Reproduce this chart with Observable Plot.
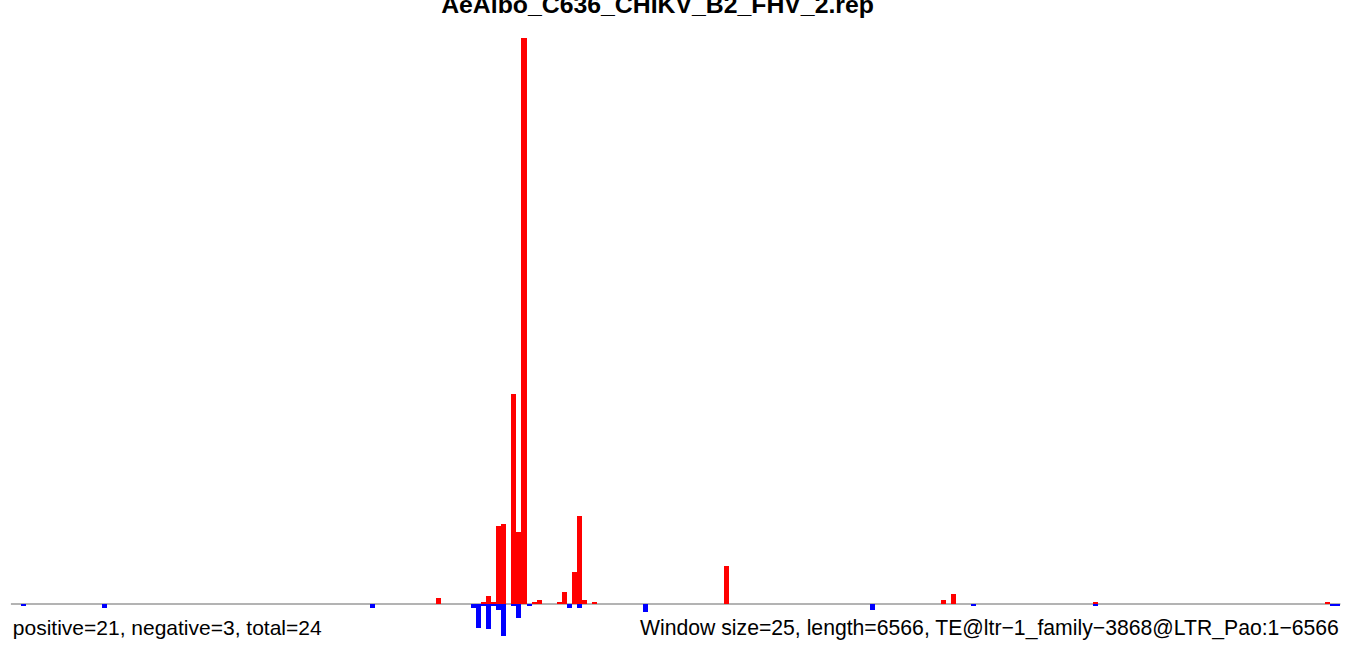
<!DOCTYPE html>
<html>
<head>
<meta charset="utf-8">
<script src="https://cdn.jsdelivr.net/npm/d3@7"></script>
<script src="https://cdn.jsdelivr.net/npm/@observablehq/plot@0.6"></script>
<style>
  html, body { margin: 0; padding: 0; background: #fff; overflow: hidden; }
</style>
</head>
<body>
<div id="chart"></div>
<script>
// Window index (window size 25 bp) and signal values
const titleText = "AeAlbo_C636_CHIKV_B2_FHV_2.rep";
const leftCaption = "positive=21, negative=3, total=24";
const rightCaption = "Window size=25, length=6566, TE@ltr\u22121_family\u22123868@LTR_Pao:1\u22126566";

const windowCount = 263;

const posWindows = [84, 93, 94, 95, 96, 97, 99, 100, 101, 103, 104, 108, 109, 111, 112, 113, 115, 141, 184, 186, 214, 260];
const posValues  = [3, 1, 4, 1, 39, 40, 105, 36, 283, 1, 2, 1, 6, 16, 44, 2, 1, 19, 2, 5, 1, 1];

const negWindows = [2, 18, 71, 91, 92, 93, 94, 95, 96, 97, 99, 100, 102, 110, 112, 125, 170, 190, 214, 261, 262];
const negValues  = [1.25, 2, 2, 2, 12, 1.25, 12.5, 1.25, 3, 16, 1.25, 7, 1.25, 2, 2, 4, 3, 1.25, 1.25, 1.25, 1.25];

const rows = [
  ...posWindows.map((w, i) => ({w, v: posValues[i], strand: "pos"})),
  ...negWindows.map((w, i) => ({w, v: -negValues[i], strand: "neg"}))
];

const W = 1357, H = 646;
const mL = 10.9, mR = 16.6, mT = 23.5, mB = 2.5;

const chart = Plot.plot({
  width: W,
  height: H,
  marginLeft: mL,
  marginRight: mR,
  marginTop: mT,
  marginBottom: mB,
  style: {fontFamily: "'Liberation Sans', Arial, sans-serif", background: "#fff", overflow: "visible"},
  x: {domain: [0, windowCount], axis: null},
  y: {domain: [-20, 290], axis: null},
  marks: [
    Plot.ruleY([0], {stroke: "#9a9a9a", strokeWidth: 1.6}),
    Plot.rectY(rows, {
      x1: "w",
      x2: d => d.w + 1,
      y: "v",
      fill: d => d.strand === "pos" ? "#FF0000" : "#0000FF",
      insetLeft: 0,
      insetRight: 0,
      shapeRendering: "crispEdges"
    }),
    Plot.text([titleText], {
      frameAnchor: "top",
      text: d => d,
      dx: -18.6,
      dy: -11.5,
      lineAnchor: "bottom",
      fontSize: 24.8,
      fontWeight: "bold",
      fill: "#000"
    }),
    Plot.text([leftCaption], {
      frameAnchor: "bottom-left",
      text: d => d,
      textAnchor: "start",
      lineAnchor: "bottom",
      dx: 1.4,
      dy: -9.5,
      fontSize: 21,
      fill: "#000"
    }),
    Plot.text([rightCaption], {
      frameAnchor: "bottom-right",
      text: d => d,
      textAnchor: "end",
      lineAnchor: "bottom",
      dx: -2,
      dy: -9.5,
      fontSize: 21.2,
      fill: "#000"
    })
  ]
});

document.getElementById("chart").appendChild(chart);
</script>
</body>
</html>
